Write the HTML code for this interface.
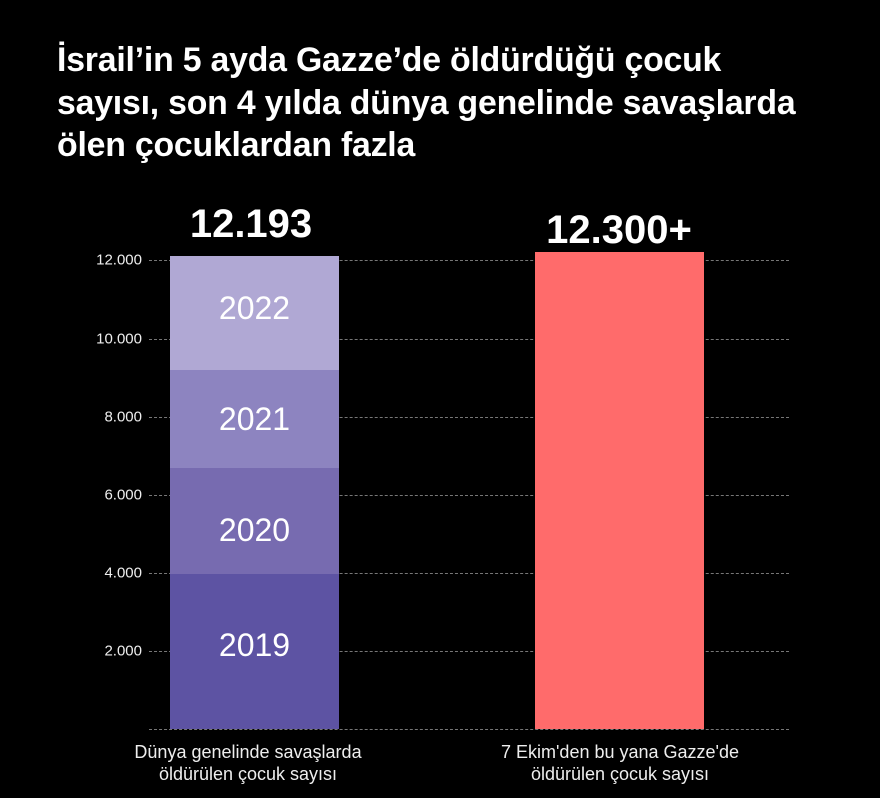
<!DOCTYPE html>
<html><head><meta charset="utf-8"><style>
body{margin:0;width:880px;height:798px;background:#000;font-family:"Liberation Sans",sans-serif;overflow:hidden;position:relative;color:#fff}
.t{position:absolute;left:57px;top:39px;font-size:33.8px;font-weight:bold;line-height:42.5px;letter-spacing:-0.2px;white-space:nowrap}
.ab{position:absolute}
.g{position:absolute;left:149px;width:640px;height:0;border-top:1px dashed #777}
.yl{position:absolute;right:738px;font-size:15px;color:#eee;transform:translateY(-50%)}
.seg{position:absolute;left:170px;width:169px;display:flex;align-items:center;justify-content:center;font-size:32px;color:#fff}
.cap{position:absolute;width:320px;text-align:center;font-size:18px;line-height:22px;color:#eee}
.big{position:absolute;font-size:40px;font-weight:bold;text-align:center;width:250px}
</style></head><body>
<div class="t">İsrail’in 5 ayda Gazze’de öldürdüğü çocuk<br>sayısı, son 4 yılda dünya genelinde savaşlarda<br>ölen çocuklardan fazla</div>
<div class="g" style="top:260px"></div><div class="g" style="top:339px"></div><div class="g" style="top:417px"></div><div class="g" style="top:495px"></div><div class="g" style="top:573px"></div><div class="g" style="top:651px"></div><div class="g" style="top:729px"></div>
<div class="yl" style="top:260px">12.000</div><div class="yl" style="top:339px">10.000</div><div class="yl" style="top:417px">8.000</div><div class="yl" style="top:495px">6.000</div><div class="yl" style="top:573px">4.000</div><div class="yl" style="top:651px">2.000</div>
<div class="seg" style="top:256px;height:114px;background:#b0a8d4;padding-bottom:10px;box-sizing:border-box">2022</div>
<div class="seg" style="top:370px;height:98px;background:#8d84c0">2021</div>
<div class="seg" style="top:468px;height:106px;background:#776bb0;padding-top:18px;box-sizing:border-box">2020</div>
<div class="seg" style="top:574px;height:155px;background:#5d53a3;padding-bottom:12px;box-sizing:border-box">2019</div>
<div class="ab" style="left:535px;top:252px;width:169px;height:477px;background:#ff6b6b"></div>
<div class="big" style="left:126px;top:202px">12.193</div>
<div class="big" style="left:494px;top:208px">12.300+</div>
<div class="cap" style="left:88px;top:741px">Dünya genelinde savaşlarda<br>öldürülen çocuk sayısı</div>
<div class="cap" style="left:460px;top:741px">7 Ekim'den bu yana Gazze'de<br>öldürülen çocuk sayısı</div>
</body></html>
